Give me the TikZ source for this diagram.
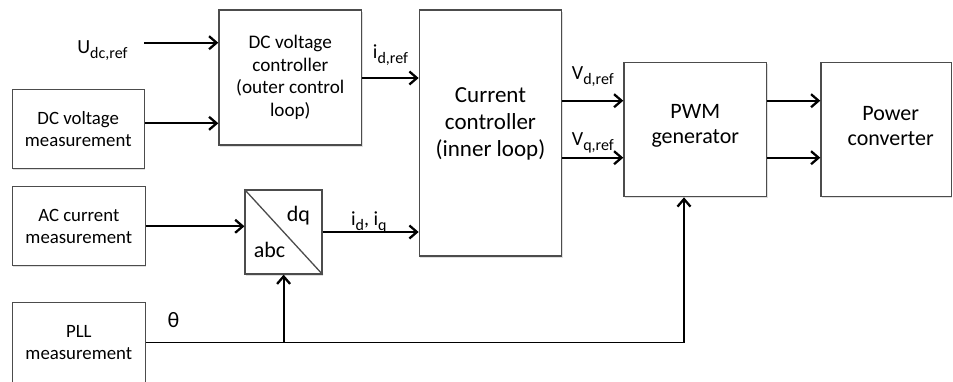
\documentclass[tikz,border=0pt]{standalone}
\usepackage{fontspec}
\setmainfont{Carlito}
\usetikzlibrary{arrows.meta,shadows}
\newcommand{\lowsub}[1]{\raisebox{-5pt}{\fontsize{16}{16}\selectfont #1}}

\begin{document}
\begin{tikzpicture}[x=1pt,y=-1pt,>={Straight Barb[length=7.5pt,width=13pt,line width=2.3pt]},line width=1.8pt,
        block/.style={draw=black!70,line width=1.3pt,rectangle,fill=white,drop shadow={shadow xshift=1pt,shadow yshift=-1.5pt,opacity=0.25}},
        meas/.style={font=\fontsize{18.8}{22.4}\selectfont,align=center},
        big/.style={font=\fontsize{22}{25}\selectfont,align=center},
        lbl/.style={font=\fontsize{20}{23}\selectfont,anchor=base}]
        \useasboundingbox (0,0) rectangle (953,381);
        \clip (0,0) rectangle (953,381);

        \node (dcmeas) [block, meas, minimum width=132pt, minimum height=79pt] at (78.2,128.8) {DC voltage\\measurement};
        \node (acmeas) [block, meas, minimum width=133pt, minimum height=79pt] at (78.8,226.3) {AC current\\measurement};
        \node (pll) [block, meas, minimum width=133pt, minimum height=79.5pt] at (78.8,342.4) {PLL\\measurement};
        \node (dcctrl) [block, align=center, font=\fontsize{19.2}{22.7}\selectfont, minimum width=142.7pt, minimum height=135pt] at (290.3,77.5) {DC voltage\\controller\\(outer control\\loop)};
        \node (abcdq) [block, minimum width=77pt, minimum height=84pt] at (283.6,232) {};
        \node (curctrl) [block, minimum width=142.4pt, minimum height=246pt, label={[big, font=\fontsize{23}{27}\selectfont, yshift=9pt]center:Current\\controller\\(inner loop)}] at (490.5,133) {};
        \node (pwm) [block, minimum width=142.7pt, minimum height=134pt, label={[big, yshift=4pt]center:PWM\\generator}] at (695.3,129.7) {};
        \node (power) [block, minimum width=130.5pt, minimum height=134pt, label={[big, yshift=4pt, xshift=4.5pt]center:Power\\converter}] at (886.2,129.7) {};
        \draw[line width=1.3pt, black!70] (abcdq.north west) -- (abcdq.south east);
        \node (dq) [font=\fontsize{22}{26}\selectfont] at (298.5,215.5) {dq};
        \node (abc) [font=\fontsize{22}{26}\selectfont] at (269.5,250) {abc};
        \node (theta) [font=\fontsize{22}{26}\selectfont] at (173.5,320) {θ};
        \node (udc) [lbl, anchor=base east] at (131.7,53.2) {U\lowsub{dc,ref}};
        \coordinate (udcin) at (144,42.7);
        \coordinate (thetabus) at (684,342.3);

        \draw[->] (udcin) -- (udcin -| dcctrl.west);
        \draw[->] (dcmeas.east |- 0,123.3) -- (dcctrl.west |- 0,123.3);
        \draw[->] (acmeas) -- (acmeas -| abcdq.west);
        \draw[->] (dcctrl.east |- 0,78) -- node[lbl, yshift=19.5pt] {i\lowsub{d,ref}} (curctrl.west |- 0,78);
        \draw[->] (abcdq) -- node[lbl, pos=0.48, yshift=6.7pt] {i\lowsub{d}, i\lowsub{q}} (abcdq -| curctrl.west);
        \draw[->] (curctrl.east |- 0,100.7) -- node[lbl, yshift=21.4pt] {V\lowsub{d,ref}} (pwm.west |- 0,100.7);
        \draw[->] (curctrl.east |- 0,157.7) -- node[lbl, yshift=12.7pt] {V\lowsub{q,ref}} (pwm.west |- 0,157.7);
        \draw[->] (pwm.east |- 0,100.7) -- (power.west |- 0,100.7);
        \draw[->] (pwm.east |- 0,157.7) -- (power.west |- 0,157.7);
        \draw[->] (pll) -| (thetabus |- pwm.south);
        \draw[->] (pll -| abcdq) -- (abcdq);
    \end{tikzpicture}
\end{document}
